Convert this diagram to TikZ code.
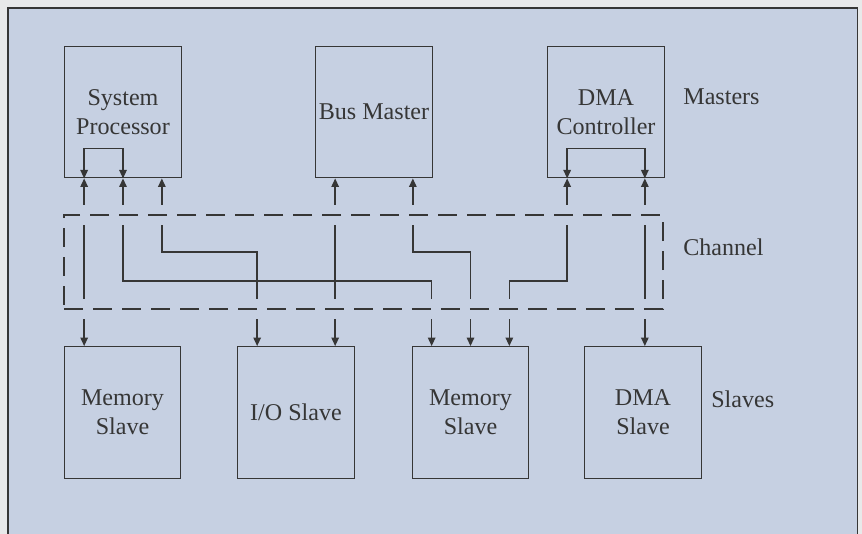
\documentclass[tikz,border=0pt]{standalone}
\usepackage{fontspec}
\setmainfont{Liberation Serif}
\definecolor{paperblue}{HTML}{C6D0E2}
\definecolor{papergray}{HTML}{E8E9EA}
\definecolor{inkgray}{HTML}{363636}
\usetikzlibrary{arrows.meta,positioning}
\tikzset{
    busunit/.style={
        draw=inkgray,
        fill=paperblue,
        line width=0.8pt,
        minimum width=2.33cm,
        minimum height=2.63cm,
        inner sep=0pt,
        align=center,
        text=inkgray,
        font=\fontsize{13.7pt}{16.5pt}\selectfont
    },
    buslabel/.style={
        anchor=west,
        inner sep=0pt,
        text=inkgray,
        font=\fontsize{13.7pt}{16.5pt}\selectfont
    },
    busarrow/.style={
        {Triangle[length=1.7mm,width=1.5mm]}-{Triangle[length=1.7mm,width=1.5mm]},
        draw=inkgray,
        line width=0.8pt
    },
    channelframe/.style={
        minimum width=11.98cm,
        minimum height=1.88cm,
        inner sep=0pt,
        preaction={draw=paperblue,solid,line width=0.4cm},
        draw=inkgray,
        dash pattern=on 0.38cm off 0.2cm,
        line width=0.8pt
    },
    outerframe/.style={
        draw=inkgray,
        fill=paperblue,
        line width=1.1pt
    }
}

\begin{document}
\begin{tikzpicture}[x=0.02cm,y=-0.02cm]
        \useasboundingbox (0,0) rectangle (862,534);
        \clip (0,0) rectangle (862,534);
        \fill[papergray] (0,0) rectangle (862,534);
        \draw[outerframe] (8,8) rectangle (857.5,560);

        % masters
        \node[busunit] (proc) at (123,112) {System\\Processor};
        \node[busunit] (busmaster) at (374,112) {Bus Master};
        \node[busunit] (dmactl) at (606,112) {DMA\\Controller};
        \node[buslabel] (masters) at (683,97) {Masters};

        % slaves
        \node[busunit] (memleft) at (122.5,412.5) {Memory\\Slave};
        \node[busunit] (ioslave) at (296,412.5) {I/O Slave};
        \node[busunit] (memright) at (470.5,412.5) {Memory\\Slave};
        \node[busunit] (dmaslave) at (643,412.5) {DMA\\Slave};
        \node[buslabel] (slaves) at (711,399) {Slaves};

        % taps on the box edges
        \coordinate (proca) at ([xshift=-0.777cm]proc.south);
        \coordinate (procb) at (proc.south);
        \coordinate (procc) at ([xshift=0.777cm]proc.south);
        \coordinate (busa) at ([xshift=-0.777cm]busmaster.south);
        \coordinate (busb) at ([xshift=0.777cm]busmaster.south);
        \coordinate (dmaa) at ([xshift=-0.777cm]dmactl.south);
        \coordinate (dmab) at ([xshift=0.777cm]dmactl.south);
        \coordinate (ioa) at ([xshift=-0.777cm]ioslave.north);
        \coordinate (memrighta) at ([xshift=-0.777cm]memright.north);
        \coordinate (memrightb) at (memright.north);
        \coordinate (memrightc) at ([xshift=0.777cm]memright.north);
        \coordinate (upperrun) at (0,252);
        \coordinate (lowerrun) at (0,281);

        % local loops
        \draw[busarrow] (proca) -- ([yshift=0.6cm]proca) -| (procb);
        \draw[busarrow] (dmaa) -- ([yshift=0.6cm]dmaa) -| (dmab);

        % channel lines
        \draw[busarrow] (proca) -- (proca |- memleft.north);
        \draw[busarrow] (procb) |- (lowerrun -| memrighta) -- (memrighta);
        \draw[busarrow] (procc) |- (upperrun -| ioa) -- (ioa);
        \draw[busarrow] (busa) -- (busa |- ioslave.north);
        \draw[busarrow] (busb) |- (upperrun -| memrightb) -- (memrightb);
        \draw[busarrow] (dmaa) |- (lowerrun -| memrightc) -- (memrightc);
        \draw[busarrow] (dmab) -- (dmab |- dmaslave.north);

        \node[channelframe] (channel) at (363.5,262) {};
        \node[buslabel] (channellabel) at (683,247) {Channel};
\end{tikzpicture}
\end{document}
